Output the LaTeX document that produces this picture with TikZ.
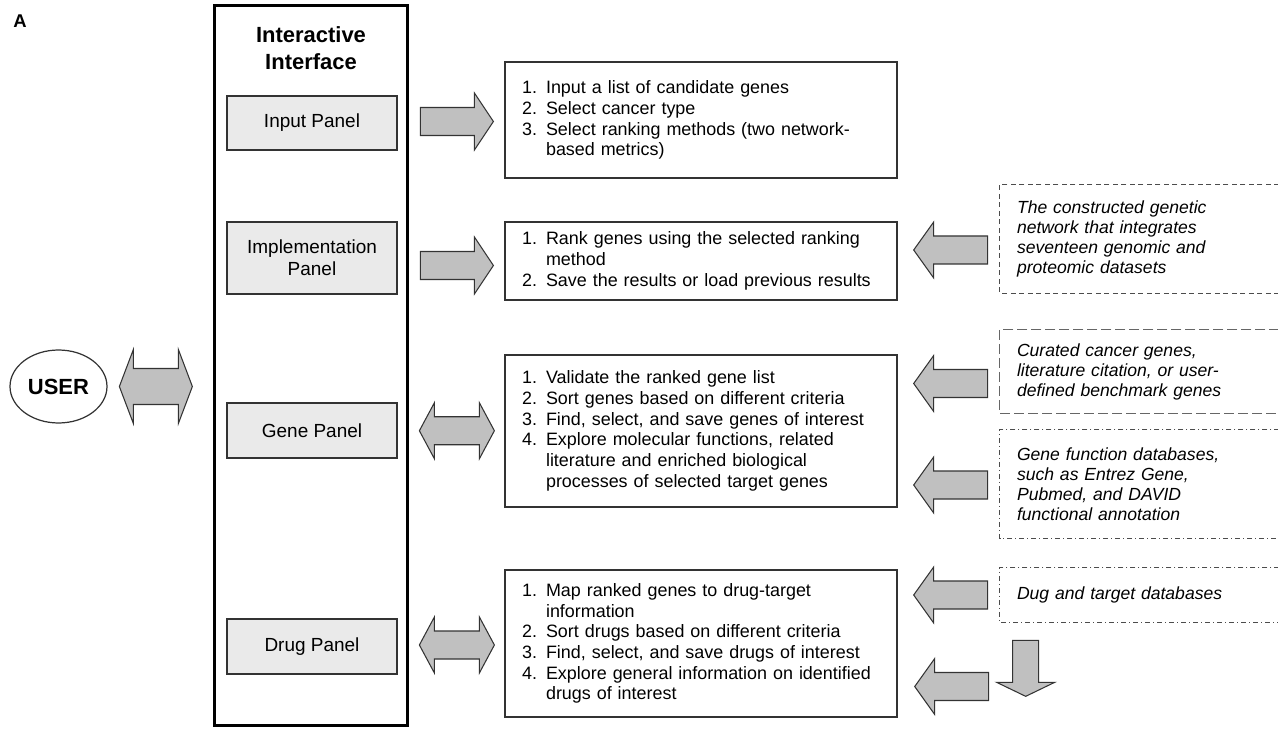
\documentclass[tikz,border=0pt]{standalone}
\usepackage{fontspec}
\setmainfont{Liberation Sans}
\usepackage{xcolor}
\definecolor{panelGray}{RGB}{234, 234, 234}
\definecolor{arrGray}{RGB}{192, 192, 192}
\definecolor{lineDark}{RGB}{51, 51, 51}
\usepackage{tikz}
\usetikzlibrary{positioning,shapes.geometric,calc}
\newcommand\itm[1]{\makebox[0.48cm][l]{#1}}

\begin{document}
\begin{tikzpicture}[
  x=0.02cm, y=-0.02cm,
  panel/.style={draw=lineDark, fill=panelGray, line width=0.7pt, minimum width=3.4cm,
                font=\fontsize{10.8}{12.5}\selectfont, align=center},
  list/.style={draw=lineDark, line width=0.85pt, text width=7.16cm, inner xsep=0.34cm,
               align=left, font=\fontsize{10.2}{11.8}\selectfont},
  src/.style={text width=4.9cm, inner xsep=0.34cm, align=left,
              font=\itshape\fontsize{10}{11.4}\selectfont},
  dshort/.style={draw=black!70, line width=0.7pt, dash pattern=on 0.1cm off 0.07cm},
  dlong/.style={draw=black!60, line width=0.8pt, dash pattern=on 0.2cm off 0.08cm},
  ddot/.style={draw=black!70, line width=0.7pt,
               dash pattern=on 0.1cm off 0.06cm on 0.02cm off 0.06cm},
  arr/.style={draw=lineDark, fill=arrGray, line width=0.6pt},
  pics/onearrow/.style n args={4}{code={
    \draw[arr] (-#1/2,-#3) -- (#1/2-#4,-#3) -- (#1/2-#4,-#2) -- (#1/2,0)
      -- (#1/2-#4,#2) -- (#1/2-#4,#3) -- (-#1/2,#3) -- cycle;}},
  pics/twoarrow/.style n args={4}{code={
    \draw[arr] (-#1/2,0) -- (-#1/2+#4,-#2) -- (-#1/2+#4,-#3) -- (#1/2-#4,-#3)
      -- (#1/2-#4,-#2) -- (#1/2,0) -- (#1/2-#4,#2) -- (#1/2-#4,#3)
      -- (-#1/2+#4,#3) -- (-#1/2+#4,#2) -- cycle;}}
]
\useasboundingbox (0,0) rectangle (1278,729);

%% ── User ──────────────────────────────────────────────────────
\node[font=\bfseries\fontsize{10.5}{12}\selectfont] (lblA) at (20,21.5) {A};
\node[ellipse, draw=lineDark, line width=0.7pt, minimum width=1.94cm, minimum height=1.46cm,
      inner sep=0pt, font=\bfseries\fontsize{12.5}{14}\selectfont] (user) at (58.5,386.5) {USER};

%% ── Interactive interface ────────────────────────────────────
\node[draw=black, line width=1.7pt, minimum width=3.88cm, minimum height=14.42cm] (ui) at (311,365.5) {};
\node[font=\bfseries\fontsize{12.5}{15.2}\selectfont, align=center] (ttl) at (311,48) {Interactive\\Interface};
\node[panel, minimum height=1.08cm] (inp) at (312,123)   {Input Panel};
\node[panel, minimum height=1.44cm] (imp) at (312,258)   {Implementation\\Panel};
\node[panel, minimum height=1.1cm]  (gen) at (312,430.5) {Gene Panel};
\node[panel, minimum height=1.1cm]  (drg) at (312,646.5) {Drug Panel};

%% ── Steps ────────────────────────────────────────────────────
\node[list, minimum height=2.32cm] (st1) at (701,120) {%
  \itm{1.}Input a list of candidate genes\\
  \itm{2.}Select cancer type\\
  \itm{3.}Select ranking methods (two network-\\
  \itm{}based metrics)};
\node[list, minimum height=1.56cm] (st2) at (701,261) {%
  \itm{1.}Rank genes using the selected ranking\\
  \itm{}method\\
  \itm{2.}Save the results or load previous results};
\node[list, minimum height=3.04cm] (st3) at (701,431) {%
  \itm{1.}Validate the ranked gene list\\
  \itm{2.}Sort genes based on different criteria\\
  \itm{3.}Find, select, and save genes of interest\\
  \itm{4.}Explore molecular functions, related\\
  \itm{}literature and enriched biological\\
  \itm{}processes of selected target genes};
\node[list, minimum height=2.94cm] (st4) at (701,643.5) {%
  \itm{1.}Map ranked genes to drug-target\\
  \itm{}information\\
  \itm{2.}Sort drugs based on different criteria\\
  \itm{3.}Find, select, and save drugs of interest\\
  \itm{4.}Explore general information on identified\\
  \itm{}drugs of interest};

%% ── Data sources ─────────────────────────────────────────────
\node[src, minimum height=2.16cm] (srcA) at (1139.5,239) {The constructed genetic\\network that integrates\\seventeen genomic and\\proteomic datasets};
\node[src, minimum height=1.66cm] (srcB) at (1139.5,371.5) {Curated cancer genes,\\literature citation, or user-\\defined benchmark genes};
\node[src, minimum height=2.16cm] (srcC) at (1139.5,484) {Gene function databases,\\such as Entrez Gene,\\Pubmed, and DAVID\\functional annotation};
\node[src, minimum height=1.08cm] (srcD) at (1139.5,595) {Dug and target databases};
\draw[dshort] (srcA.north east) -- (srcA.north west) -- (srcA.south west) -- (srcA.south east);
\draw[dlong]  (srcB.north east) -- (srcB.north west) -- (srcB.south west) -- (srcB.south east);
\draw[ddot]   (srcC.north east) -- (srcC.north west) -- (srcC.south west) -- (srcC.south east);
\draw[ddot]   (srcD.north east) -- (srcD.north west) -- (srcD.south west) -- (srcD.south east);

%% ── Block arrows ─────────────────────────────────────────────
\pic at ($(user.east)!0.46!(ui.west |- user)$) {twoarrow={73}{37}{18}{14}};
\pic at ($(ui.east |- inp)!0.5!(st1.west)$) {onearrow={73}{28.5}{14}{19}};
\pic at ($(ui.east |- imp)!0.5!(st2.west)+(0,6)$) {onearrow={73}{28.5}{14}{19}};
\pic at ($(ui.east |- gen)!0.5!(st3.west)$) {twoarrow={75}{28}{14}{15}};
\pic at ($(ui.east |- drg)!0.5!(st4.west)$) {twoarrow={75}{28}{14}{15}};
\pic[rotate=180] at ($(srcA.west)+(-49,11)$) {onearrow={74}{28}{14}{20}};
\pic[rotate=180] at ($(srcB.west)+(-49,12)$) {onearrow={74}{28}{14}{20}};
\pic[rotate=180] at ($(srcC.west)+(-49,1)$)  {onearrow={74}{28}{14}{20}};
\pic[rotate=180] at ($(srcD.west)+(-49,0)$)  {onearrow={74}{28}{14}{20}};
\pic[rotate=-90] at ($(srcD.south west)+(26,46)$) {onearrow={56}{29}{13}{14}};
\pic[rotate=180] at ($(st4.east)+(54,43)$) {onearrow={74}{28}{14}{20}};
\end{tikzpicture}
\end{document}
